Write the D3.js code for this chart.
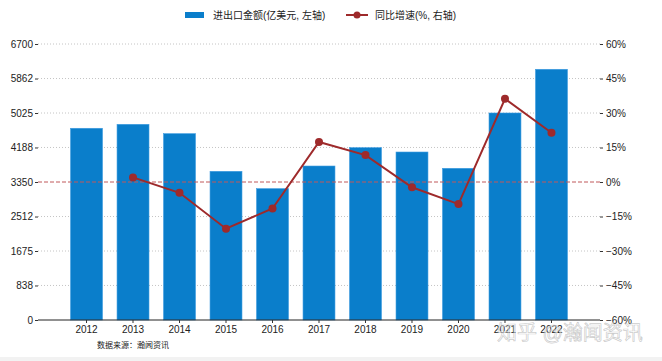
<!DOCTYPE html>
<html>
<head>
<meta charset="utf-8">
<script src="https://cdn.jsdelivr.net/npm/d3@7"></script>
<style>
	body { margin: 0; background: #fff; }
	text { font-family: "Liberation Sans", Arial, "Noto Sans CJK SC", sans-serif; }
</style>
</head>
<body>
<div id="chart-area"></div>
<script>
// data
let years = ["2012","2013","2014","2015","2016","2017","2018","2019","2020","2021","2022"];
let tradeValue = [4654, 4750, 4523, 3609, 3188, 3738, 4183, 4078, 3682, 5025, 6086];
let growthRate = [null, 2.0, -4.7, -20.3, -11.5, 17.4, 11.7, -2.3, -9.6, 36.2, 21.4];
let leftTicks = [0, 838, 1675, 2512, 3350, 4188, 5025, 5862, 6700];
let rightTicks = [-60, -45, -30, -15, 0, 15, 30, 45, 60];

let width = 662,
	height = 361;
let margin = {top: 44, bottom: 41, left: 38, right: 62};

let svg = d3.select('#chart-area').append('svg')
	.attr('width', width)
	.attr('height', height);

let xScale = d3.scaleBand()
	.domain(years)
	.range([margin.left, width - margin.right])
	.paddingInner(0.313)
	.paddingOuter(0.7);

let yLeft = d3.scaleLinear()
	.domain([0, 6700])
	.range([height - margin.bottom, margin.top]);

let yRight = d3.scaleLinear()
	.domain([-60, 60])
	.range([height - margin.bottom, margin.top]);

// dotted grid
svg.append('g')
	.selectAll('line')
	.data(leftTicks.filter(d => d > 0 && d != 3350))
	.enter()
	.append('line')
	.attr('x1', margin.left)
	.attr('x2', width - margin.right)
	.attr('y1', d => yLeft(d))
	.attr('y2', d => yLeft(d))
	.attr('stroke', '#b5b5b5')
	.attr('stroke-width', 0.8)
	.attr('stroke-dasharray', '1,2');

// bars
svg.selectAll('rect.bar')
	.data(years)
	.enter()
	.append('rect')
	.attr('class', 'bar')
	.attr('x', d => xScale(d))
	.attr('width', xScale.bandwidth())
	.attr('y', (d, i) => yLeft(tradeValue[i]))
	.attr('height', (d, i) => yLeft(0) - yLeft(tradeValue[i]))
	.attr('fill', '#0a7ecb')
	.attr('stroke', '#3d9be0')
	.attr('stroke-width', 0.6);

// zero growth reference line
svg.append('line')
	.attr('x1', margin.left)
	.attr('x2', width - margin.right)
	.attr('y1', yRight(0))
	.attr('y2', yRight(0))
	.attr('stroke', '#c0585a')
	.attr('stroke-width', 1)
	.attr('stroke-dasharray', '4,2');

// axes
let yaxisLeft = d3.axisLeft(yLeft)
	.tickValues(leftTicks)
	.tickFormat(d3.format('d'))
	.tickSize(3)
	.tickPadding(2);

let yaxisRight = d3.axisRight(yRight)
	.tickValues(rightTicks)
	.tickSize(3)
	.tickPadding(3)
	.tickFormat(d => (d < 0 ? '\u2212' + (-d) : d) + '%');

let xaxis = d3.axisBottom(xScale)
	.tickSize(3)
	.tickPadding(3);

let gl = svg.append('g')
	.attr('transform', 'translate(' + margin.left + ',0)')
	.call(yaxisLeft);
gl.select('.domain').remove();

let gr = svg.append('g')
	.attr('transform', 'translate(' + (width - margin.right) + ',0)')
	.call(yaxisRight);
gr.select('.domain').remove();

let gx = svg.append('g')
	.attr('transform', 'translate(0,' + (height - margin.bottom) + ')')
	.call(xaxis);
gx.select('.domain')
	.attr('d', 'M' + margin.left + ',0H' + (width - margin.right))
	.attr('stroke', '#222');

svg.selectAll('.tick text')
	.attr('font-size', 10)
	.attr('fill', '#222')
	.attr('font-family', '"Liberation Sans", Arial, sans-serif');
svg.selectAll('.tick line').attr('stroke', '#333');

// growth line
let line = d3.line()
	.defined(d => d[1] != null)
	.x(d => xScale(d[0]) + xScale.bandwidth() / 2)
	.y(d => yRight(d[1]));

let linePoints = years.map((y, i) => [y, growthRate[i]]);

svg.append('path')
	.datum(linePoints)
	.attr('d', line)
	.attr('fill', 'none')
	.attr('stroke', '#9e2a2b')
	.attr('stroke-width', 2);

svg.selectAll('circle.pt')
	.data(linePoints.filter(d => d[1] != null))
	.enter()
	.append('circle')
	.attr('class', 'pt')
	.attr('cx', d => xScale(d[0]) + xScale.bandwidth() / 2)
	.attr('cy', d => yRight(d[1]))
	.attr('r', 4)
	.attr('fill', '#9e2a2b');

// legend
let legend = svg.append('g');
legend.append('rect')
	.attr('x', 185)
	.attr('y', 12)
	.attr('width', 19)
	.attr('height', 6)
	.attr('fill', '#0a7ecb');
legend.append('text')
	.attr('x', 213)
	.attr('y', 19)
	.attr('font-size', 10)
	.attr('fill', '#222')
	.text('进出口金额(亿美元, 左轴)');
legend.append('line')
	.attr('x1', 346)
	.attr('x2', 368)
	.attr('y1', 15)
	.attr('y2', 15)
	.attr('stroke', '#9e2a2b')
	.attr('stroke-width', 2);
legend.append('circle')
	.attr('cx', 357)
	.attr('cy', 15)
	.attr('r', 3.5)
	.attr('fill', '#9e2a2b');
legend.append('text')
	.attr('x', 375)
	.attr('y', 19)
	.attr('font-size', 10)
	.attr('fill', '#222')
	.text('同比增速(%, 右轴)');

// source note
svg.append('text')
	.attr('x', 97)
	.attr('y', 348)
	.attr('font-size', 8)
	.attr('fill', '#222')
	.text('数据来源：瀚闻资讯');

// watermark
svg.append('text')
	.attr('x', 497)
	.attr('y', 340)
	.attr('font-size', 20)
	.attr('fill', 'rgba(255,255,255,0.5)')
	.attr('stroke', 'rgba(160,160,160,0.55)')
	.attr('stroke-width', 0.7)
	.text('知乎 @瀚闻资讯');

// bottom strip
svg.append('rect')
	.attr('x', 0)
	.attr('y', 357)
	.attr('width', width)
	.attr('height', 4)
	.attr('fill', '#f2f2f2');
</script>
</body>
</html>
